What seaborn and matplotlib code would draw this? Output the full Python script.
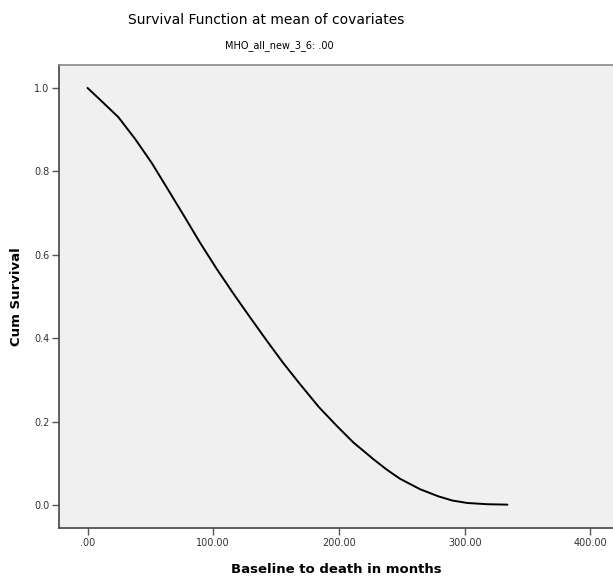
import matplotlib
matplotlib.use("Agg")
import matplotlib.pyplot as plt
import seaborn as sns
import pandas as pd

months = [0, 11.3, 24.5, 37.8, 51.1, 64.3, 77.6, 89.5, 102.8, 116, 129.3, 142.6,
          155.8, 169, 184, 198.2, 211.5, 227.4, 238, 248.6, 264.5, 279, 290, 302,
          318, 334]
cum_survival = [1.0, 0.968, 0.930, 0.878, 0.820, 0.755, 0.689, 0.629, 0.566, 0.507,
                0.450, 0.394, 0.340, 0.290, 0.235, 0.190, 0.150, 0.110, 0.085, 0.063,
                0.038, 0.021, 0.011, 0.005, 0.002, 0.001]
x_ticks = [0, 100, 200, 300, 400]
x_tick_labels = [".00", "100.00", "200.00", "300.00", "400.00"]
y_ticks = [0.0, 0.2, 0.4, 0.6, 0.8, 1.0]
y_tick_labels = ["0.0", "0.2", "0.4", "0.6", "0.8", "1.0"]

df = pd.DataFrame({"months": months, "surv": cum_survival})

sns.set_style("white")
plt.rcParams["font.family"] = ["DejaVu Sans"]

fig = plt.figure(figsize=(6.13, 5.80), dpi=100)
ax = fig.add_axes([59/613, 1 - 528/580, 1 - 59/613, (528 - 65)/580])
ax.set_facecolor("#f0f0f0")

sns.lineplot(data=df, x="months", y="surv", ax=ax, color="black", linewidth=1.4,
             estimator=None, sort=True)

ax.set_xlim(-22.7, 418)
ax.set_ylim(-0.055, 1.055)
ax.set_xticks(x_ticks)
ax.set_xticklabels(x_tick_labels)
ax.set_yticks(y_ticks)
ax.set_yticklabels(y_tick_labels)
ax.tick_params(axis="both", which="major", bottom=True, left=True, top=False, right=False,
               direction="out", length=5, width=1, color="#555555",
               labelsize=7, labelcolor="#333333", pad=2)

for s in ["left", "bottom"]:
    ax.spines[s].set_color("#444444")
    ax.spines[s].set_linewidth(1.2)
ax.spines["top"].set_color("#888888")
ax.spines["top"].set_linewidth(1.2)
ax.spines["right"].set_visible(False)

ax.set_xlabel("Baseline to death in months", fontsize=9.5, fontweight="bold",
              labelpad=11, color="black")
ax.set_ylabel("Cum Survival", fontsize=9.5, fontweight="bold", labelpad=8, color="black")

fig.text(0.435, 1 - 20/580, "Survival Function at mean of covariates", ha="center",
         va="center", fontsize=10, color="black")
fig.text(0.455, 1 - 46/580, "MHO_all_new_3_6: .00", ha="center", va="center",
         fontsize=7, color="black")

fig.savefig("out.png", dpi=100)
